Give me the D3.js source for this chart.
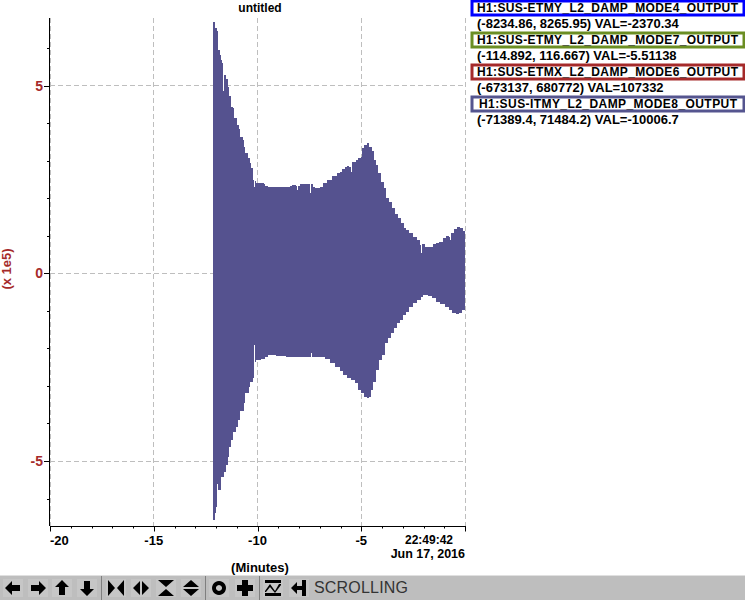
<!DOCTYPE html>
<head>
    <meta charset="utf-8">
    <title>untitled</title>
<style>
    body {
        margin: 0;
        background: #fff;
    }

    svg {
        display: block;
    }

    text {
        font-family: "Liberation Sans", sans-serif;
        font-size: 13px;
        font-weight: bold;
        fill: #000;
    }

    .red {
        fill: #a52a2a;
    }

    .grid {
        stroke: #bebebe;
        stroke-dasharray: 5 3;
        fill: none;
    }
</style>
</head>
<body>
<script src="https://d3js.org/d3.v7.min.js"></script>
<script>

    // upper edge of the trace: minutes before end, value x 1e5
    const upperT = [-12.16,-12.07,-11.97,-11.92,-11.88,-11.83,-11.78,-11.73,-11.68,-11.63,-11.54,-11.44,-11.39,-11.30,-11.20,-11.15,-11.11,-11.01,-10.91,-10.82,-10.72,-10.67,-10.58,-10.48,-10.38,-10.29,-10.24,-10.19,-10.14,-10.05,-9.76,-9.71,-9.62,-9.47,-8.80,-8.41,-8.32,-8.13,-8.08,-8.03,-7.93,-7.55,-7.45,-7.40,-7.31,-7.21,-6.97,-6.83,-6.63,-6.39,-6.15,-6.01,-5.91,-5.77,-5.67,-5.58,-5.48,-5.43,-5.24,-5.14,-5.00,-4.95,-4.86,-4.71,-4.62,-4.47,-4.38,-4.28,-4.18,-4.04,-3.89,-3.80,-3.65,-3.51,-3.37,-3.22,-3.08,-2.93,-2.84,-2.69,-2.50,-2.31,-2.16,-2.12,-2.07,-1.92,-1.68,-1.54,-1.39,-1.25,-1.06,-0.91,-0.77,-0.72,-0.67,-0.53,-0.38,-0.24,-0.10,0];
    const upperV = [6.68,6.52,6.44,6.15,5.94,5.81,5.67,5.59,4.85,5.27,5.17,4.95,4.71,4.42,4.39,4.29,4.13,3.94,3.83,3.62,3.54,3.36,3.20,3.06,2.93,2.80,2.48,2.29,2.45,2.40,2.40,2.37,2.32,2.29,2.29,2.32,2.34,2.32,2.21,2.32,2.37,2.37,2.13,2.37,2.29,2.26,2.29,2.40,2.48,2.58,2.66,2.69,2.77,2.82,2.85,2.82,2.69,2.96,3.01,3.06,3.09,3.33,3.41,3.46,3.36,3.25,3.01,2.88,2.66,2.42,2.26,2.00,1.89,1.73,1.57,1.46,1.33,1.20,1.15,1.07,0.96,0.88,0.75,0.53,0.77,0.69,0.69,0.77,0.80,0.83,0.93,0.99,0.96,0.88,1.07,1.17,1.23,1.20,1.12,1.04];

    // lower edge of the trace
    const lowerT = [-12.16,-12.07,-12.02,-11.97,-11.92,-11.78,-11.63,-11.54,-11.44,-11.39,-11.30,-11.20,-11.06,-10.96,-10.82,-10.67,-10.58,-10.43,-10.34,-10.24,-10.19,-10.14,-10.05,-9.81,-9.62,-9.47,-9.13,-8.65,-8.17,-7.45,-7.40,-7.36,-6.97,-6.73,-6.49,-6.25,-6.01,-5.87,-5.67,-5.48,-5.29,-5.14,-5.00,-4.86,-4.71,-4.62,-4.52,-4.42,-4.28,-4.13,-3.99,-3.85,-3.70,-3.56,-3.41,-3.27,-3.13,-2.98,-2.84,-2.69,-2.50,-2.31,-2.12,-2.02,-1.78,-1.59,-1.39,-1.20,-0.96,-0.77,-0.63,-0.43,-0.29,-0.14,0];
    const lowerV = [-6.58,-6.39,-6.23,-5.62,-5.78,-5.43,-5.30,-5.11,-4.90,-4.63,-4.45,-4.23,-4.10,-3.91,-3.68,-3.46,-3.20,-3.04,-2.90,-2.80,-1.92,-2.37,-2.32,-2.29,-2.24,-2.18,-2.21,-2.24,-2.24,-2.24,-2.13,-2.24,-2.24,-2.29,-2.40,-2.50,-2.61,-2.72,-2.80,-2.85,-2.93,-3.12,-3.20,-3.30,-3.33,-3.30,-3.12,-2.90,-2.58,-2.32,-2.18,-1.86,-1.73,-1.60,-1.46,-1.33,-1.25,-1.12,-1.04,-0.91,-0.80,-0.72,-0.64,-0.59,-0.61,-0.67,-0.77,-0.83,-0.91,-0.99,-1.07,-1.09,-1.07,-0.99,-0.91];

    const xMajor = [-20, -15, -10, -5, 0];
    const xMinor = d3.range(-20, 1);
    const yMajor = [-5, 0, 5];
    const yMinor = d3.range(-6, 7);

    const channels = ["H1:SUS-ETMY_L2_DAMP_MODE4_OUTPUT", "H1:SUS-ETMY_L2_DAMP_MODE7_OUTPUT", "H1:SUS-ETMX_L2_DAMP_MODE6_OUTPUT", "H1:SUS-ITMY_L2_DAMP_MODE8_OUTPUT"];
    const ranges = ["(-8234.86, 8265.95) VAL=-2370.34", "(-114.892, 116.667) VAL=-5.51138", "(-673137, 680772) VAL=107332", "(-71389.4, 71484.2) VAL=-10006.7"];
    const channelColors = ["#0000ff", "#6b8e23", "#a52a2a", "#55558f"];

    const svg = d3.select("body").append("svg")
        .attr("width", 745)
        .attr("height", 600);

    const x = d3.scaleLinear().domain([-20, 0]).range([50, 465]);
    const y = d3.scaleLinear().domain([-5, 5]).range([461, 85.5]);
    const plotTop = 18, plotBottom = 526;

    // grid
    svg.selectAll(".gx").data(xMajor).join("line")
        .attr("class", "grid")
        .attr("shape-rendering", "crispEdges")
        .attr("x1", d => x(d)).attr("x2", d => x(d))
        .attr("y1", plotTop).attr("y2", plotBottom);

    svg.selectAll(".gy").data(yMajor).join("line")
        .attr("class", "grid")
        .attr("shape-rendering", "crispEdges")
        .attr("x1", 50).attr("x2", 465)
        .attr("y1", d => y(d)).attr("y2", d => y(d));

    // trace, one half above and one below zero
    const halves = [[upperT, upperV], [lowerT, lowerV]];
    const area = d3.area()
        .curve(d3.curveStepAfter)
        .x(d => x(d[0]))
        .y0(y(0))
        .y1(d => y(d[1]));

    svg.selectAll(".half").data(halves).join("path")
        .attr("shape-rendering", "crispEdges")
        .attr("fill", "#55528f")
        .attr("d", d => area(d3.zip(d[0], d[1])));

    // axes
    const axisX = svg.append("g").attr("transform", `translate(0,${plotBottom + 0.5})`);
    axisX.append("line").attr("x1", 50).attr("x2", 466).attr("stroke", "#000");
    axisX.selectAll(".minor").data(xMinor).join("line")
        .attr("x1", d => Math.round(x(d)) + 0.5).attr("x2", d => Math.round(x(d)) + 0.5)
        .attr("y2", d => xMajor.includes(d) ? 5 : 2)
        .attr("stroke", "#000");

    axisX.selectAll(".lab").data(xMajor.slice(0, 4)).join("text")
        .attr("text-anchor", d => d == -20 ? "start" : "middle")
        .attr("x", d => x(d))
        .attr("y", 18)
        .text(d => d);

    svg.append("line")
        .attr("x1", 49.5).attr("x2", 49.5)
        .attr("y1", plotTop).attr("y2", plotBottom)
        .attr("stroke", "#000");

    svg.selectAll(".ty").data(yMinor).join("line")
        .attr("x1", d => yMajor.includes(d) ? 44 : 47).attr("x2", 49)
        .attr("y1", d => Math.round(y(d)) + 0.5).attr("y2", d => Math.round(y(d)) + 0.5)
        .attr("stroke", "#000");

    svg.selectAll(".ly").data(yMajor).join("text")
        .attr("class", "red")
        .attr("text-anchor", "end")
        .attr("x", 43)
        .attr("y", d => y(d) + 5)
        .style("font-size", "14px")
        .text(d => d);

    svg.append("text")
        .attr("class", "red")
        .attr("text-anchor", "middle")
        .attr("transform", "translate(11,269) rotate(-90)")
        .text("(x 1e5)");

    svg.append("text").attr("text-anchor", "middle").attr("x", 260).attr("y", 12).style("font-size", "12px").text("untitled");
    svg.append("text").attr("text-anchor", "middle").attr("x", 260).attr("y", 572).text("(Minutes)");
    svg.append("text").attr("text-anchor", "end").attr("x", 453).attr("y", 544).style("font-size", "12px").text("22:49:42");
    svg.append("text").attr("text-anchor", "end").attr("x", 465).attr("y", 558).style("font-size", "12.5px").text("Jun 17, 2016");

    // channel legend
    const boxTop = [1, 33, 65, 97];
    const legend = svg.selectAll(".chan").data(channels).join("g")
        .attr("transform", (d, i) => `translate(0,${boxTop[i]})`);

    legend.append("rect")
        .attr("x", 472).attr("y", 0)
        .attr("width", 272).attr("height", 14)
        .attr("fill", "#fff")
        .attr("stroke-width", 3)
        .attr("stroke", (d, i) => channelColors[i]);

    legend.append("text")
        .attr("x", (d, i) => i == 3 ? 479 : 477)
        .attr("y", 11)
        .attr("textLength", (d, i) => i == 3 ? 258 : 261)
        .style("font-size", "12px")
        .text(d => d);

    legend.append("text")
        .attr("x", 477)
        .attr("y", 27)
        .text((d, i) => ranges[i]);

    // toolbar
    svg.append("rect").attr("y", 575).attr("width", 745).attr("height", 25).attr("fill", "#bebebe");
    svg.append("line").attr("x1", 0).attr("x2", 745).attr("y1", 575.5).attr("y2", 575.5).attr("stroke", "#e0e0e0");

    const separators = [101.5, 205.5, 259.5];
    svg.selectAll(".sep").data(separators).join("line")
        .attr("x1", d => d).attr("x2", d => d)
        .attr("y1", 576).attr("y2", 600)
        .attr("stroke", "#7f7f7f");

    const buttons = [
        [13, "M-8 0L-1-7V-3H7V3H-1V7Z"],
        [38, "M8 0L1-7V-3H-7V3H1V7Z"],
        [62, "M0-8L7-1H3V7H-3V-1H-7Z"],
        [87, "M0 8L7 1H3V-7H-3V1H-7Z"],
        [116, "M-8-8L-1 0L-8 8ZM8-8L1 0L8 8Z"],
        [141, "M-1-7L-8 0L-1 7ZM1-7L8 0L1 7Z"],
        [166, "M-8-8H8L0-1ZM-8 8H8L0 1Z"],
        [191, "M0-8L8-1H-8ZM0 8L8 1H-8Z"],
        [219, "M0-7A7 7 0 1 0 0.01-7ZM0-3A3 3 0 1 1-0.01-3Z"],
        [245, "M-3-8H3V-3H8V3H3V8H-3V3H-8V-3H-3Z"],
        [273, "M-8-8H8V-5H-8ZM-8 5H8V8H-8ZM-8 3L-3-4L2 3L6-4H8V-3L2 5L-3-1L-7 4H-8Z"],
        [299, "M-8 0L-2-6V-2H3V-8H7V8H3V2H-2V6Z"]
    ];

    const btn = svg.selectAll(".btn").data(buttons).join("g")
        .attr("transform", d => `translate(${d[0]},588)`);

    btn.append("rect")
        .attr("x", -10).attr("y", -9)
        .attr("width", 20).attr("height", 18)
        .attr("fill", "#c6c6c6");

    btn.append("path")
        .attr("fill-rule", "evenodd")
        .attr("d", d => d[1]);

    svg.append("text")
        .attr("x", 314).attr("y", 593)
        .attr("textLength", 94)
        .style("font-size", "16px")
        .style("font-weight", "normal")
        .style("fill", "#333")
        .text("SCROLLING");

</script>
</body>
